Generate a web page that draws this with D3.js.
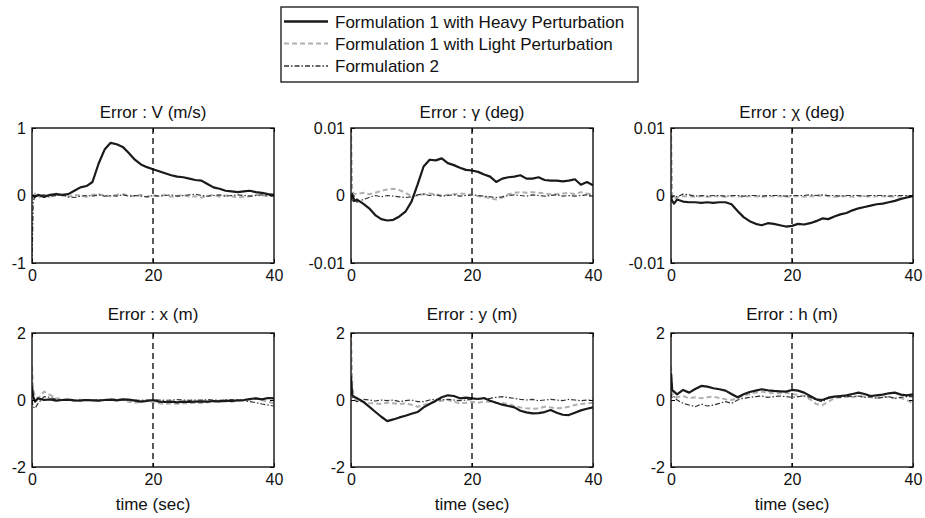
<!DOCTYPE html>
<html><head><meta charset="utf-8">
<script src="https://cdn.jsdelivr.net/npm/d3@7"></script>
<style>
html,body{margin:0;padding:0;background:#fff;}
svg{display:block;font-family:"Liberation Sans",Arial,Helvetica,sans-serif;}
</style></head><body>
<svg id="chart" width="925" height="518"></svg>
<script>
// ---------------- data ----------------
const seriesNames = ["Formulation 1 with Heavy Perturbation", "Formulation 1 with Light Perturbation", "Formulation 2"];
const panelTitles = ["Error : V (m/s)", "Error : \u03b3 (deg)", "Error : \u03c7 (deg)", "Error : x (m)", "Error : y (m)", "Error : h (m)"];
const xTicks = [0, 20, 40];
const xTickLabels = ["0", "20", "40"];
const xLabel = "time (sec)";
const markerTime = 20;
const yTicksV = [-1, 0, 1];
const yTicksAngle = [-0.01, 0, 0.01];
const yTicksPos = [-2, 0, 2];
const yTickLabelsV = ["-1", "0", "1"];
const yTickLabelsAngle = ["-0.01", "0", "0.01"];
const yTickLabelsPos = ["-2", "0", "2"];

const time = [0, 0.2, 0.5, 1, 2, 3, 4, 5, 6, 7, 8, 9, 10, 11, 12, 13, 14, 15, 16, 17, 18, 19, 20,
  21, 22, 23, 24, 25, 26, 27, 28, 29, 30, 31, 32, 33, 34, 35, 36, 37, 38, 39, 40];

// V (m/s)
const vHeavy = [0, 0, -0.02, 0.01, -0.02, 0.01, 0.02, 0.01, 0.02, 0.07, 0.12, 0.14, 0.2, 0.47, 0.68, 0.78, 0.76, 0.72, 0.63, 0.53, 0.46, 0.42, 0.39,
  0.36, 0.33, 0.30, 0.28, 0.27, 0.25, 0.23, 0.22, 0.17, 0.12, 0.10, 0.07, 0.06, 0.05, 0.06, 0.07, 0.05, 0.04, 0.02, 0.01];
const vLight = [0, -0.05, 0.03, -0.04, 0.02, -0.03, 0.03, 0, -0.02, 0.01, 0, -0.02, 0.01, 0.02, 0, -0.01, 0.01, 0.02, 0, -0.01, 0.01, -0.02, 0,
  -0.01, 0.01, -0.02, -0.01, 0.01, -0.02, -0.01, -0.03, -0.01, 0.01, -0.02, 0, -0.01, -0.03, -0.02, -0.01, 0.01, 0, -0.01, 0];
const vForm2 = [-1, -0.1, 0, -0.01, 0.01, -0.01, 0, 0.01, -0.02, -0.03, -0.01, 0, -0.01, 0.01, -0.01, 0, -0.01, 0.01, -0.01, 0, -0.01, -0.02, 0,
  -0.01, 0, 0.01, -0.01, 0, 0.01, 0.02, 0, -0.01, 0, 0.01, -0.01, 0, 0.01, 0, -0.01, 0, 0.01, 0, 0];

// gamma (deg)
const gHeavy = [-0.0005, 0.0002, -0.0008, -0.0006, -0.0012, -0.0019, -0.0029, -0.0035, -0.0037, -0.0036, -0.0031, -0.0024, -0.0009, 0.0016, 0.0043, 0.0053, 0.0052, 0.0055, 0.0048, 0.0045, 0.0041, 0.0038, 0.0037,
  0.0035, 0.0031, 0.0028, 0.0020, 0.0025, 0.0027, 0.0028, 0.0030, 0.0025, 0.0025, 0.0027, 0.0023, 0.0022, 0.0022, 0.0021, 0.0022, 0.0024, 0.0016, 0.0020, 0.0015];
const gLight = [0.01, 0.0005, 0.0003, 0.0002, 0.0004, 0.0002, 0.0004, 0.0007, 0.0009, 0.0010, 0.0008, 0.0004, -0.0001, 0, 0.0002, 0.0003, 0.0002, 0, 0.0001, 0.0002, 0.0003, 0.0002, 0.0001,
  -0.0001, -0.0002, -0.0004, -0.0006, -0.0003, 0.0002, 0.0004, 0.0005, 0.0004, 0.0005, 0.0004, 0.0003, 0.0002, 0.0002, 0.0003, 0.0004, 0.0002, 0.0005, 0.0003, 0.0002];
const gForm2 = [-0.0002, -0.0008, -0.0004, -0.0010, -0.0006, -0.0003, 0, -0.0002, 0, -0.0001, -0.0002, -0.0003, -0.0002, 0.0001, 0.0002, 0, 0.0001, -0.0001, 0, 0.0001, -0.0001, 0, 0.0001,
  0, -0.0001, -0.0002, -0.0003, -0.0002, 0, 0.0001, 0, -0.0001, 0.0001, 0, -0.0001, 0, 0.0001, -0.0001, 0, -0.0001, 0, 0.0001, 0];

// chi (deg)
const cHeavy = [-0.0003, -0.0008, -0.0012, -0.0006, -0.0009, -0.0010, -0.0010, -0.0011, -0.0010, -0.0011, -0.0010, -0.0010, -0.0013, -0.0023, -0.0032, -0.0038, -0.0042, -0.0044, -0.0041, -0.0042, -0.0044, -0.0046, -0.0045,
  -0.0042, -0.0043, -0.0041, -0.0038, -0.0034, -0.0035, -0.0031, -0.0028, -0.0026, -0.0022, -0.0019, -0.0017, -0.0015, -0.0013, -0.0012, -0.0010, -0.0008, -0.0005, -0.0003, -0.0001];
const cLight = [0.01, -0.0002, -0.0005, -0.0003, -0.0001, -0.0001, -0.0002, -0.0001, -0.0002, -0.0001, -0.0001, -0.0002, -0.0001, -0.0001, -0.0002, -0.0001, -0.0001, -0.0002, -0.0001, -0.0001, -0.0001, -0.0002, -0.0001,
  -0.0001, -0.0002, -0.0001, -0.0001, 0, -0.0001, -0.0002, -0.0001, -0.0001, -0.0002, -0.0001, -0.0001, -0.0002, -0.0001, -0.0001, -0.0001, -0.0002, -0.0001, -0.0001, -0.0001];
const cForm2 = [0, -0.0003, 0, -0.0002, 0.0002, 0.0001, -0.0001, 0, -0.0001, 0, 0, -0.0001, 0, 0, -0.0001, 0, 0, -0.0001, 0, 0, 0, -0.0001, 0,
  0, 0, 0.0001, 0, 0.0001, 0, 0, -0.0001, 0, 0, 0, -0.0001, 0, 0, 0, -0.0001, 0, 0, 0, 0];

// x (m)
const xHeavy = [0.4, 0.1, -0.05, 0.05, 0, 0.02, -0.02, 0, 0.01, -0.01, -0.02, 0, -0.01, -0.02, 0, 0.01, -0.01, 0.02, 0.01, -0.02, -0.05, -0.03, 0,
  -0.05, -0.06, -0.05, -0.07, -0.05, -0.06, -0.05, -0.04, -0.05, -0.03, -0.04, -0.02, -0.03, -0.01, 0, 0.03, 0.05, 0.02, 0.06, 0.05];
const xLight = [1.0, 0.3, 0.1, 0.05, 0.25, 0.15, 0.05, 0.03, 0, -0.02, 0.01, -0.01, 0, -0.02, 0, 0.03, 0.02, 0, -0.05, -0.08, -0.05, -0.02, -0.06,
  -0.1, -0.12, -0.1, -0.11, -0.09, -0.1, -0.08, -0.09, -0.07, -0.05, -0.06, -0.04, -0.05, -0.02, -0.03, 0, 0.05, 0, -0.05, -0.1];
const xForm2 = [0, -0.2, -0.25, -0.1, 0.1, 0.08, 0.02, -0.01, 0, -0.02, 0, 0.01, -0.01, 0, 0.01, 0, -0.01, 0, 0.01, 0, -0.01, 0, 0.01,
  0, -0.01, 0, 0.01, 0, -0.01, 0, 0, 0.01, 0, -0.01, 0, 0.01, 0, -0.02, -0.05, -0.08, -0.12, -0.15, -0.18];

// y (m)
const yHeavy = [0.7, 0.15, 0.1, 0.05, -0.05, -0.2, -0.35, -0.5, -0.63, -0.58, -0.52, -0.47, -0.41, -0.36, -0.22, -0.12, -0.02, 0.08, 0.14, 0.12, 0.05, 0.07, 0.05,
  0.03, 0.06, -0.02, -0.08, -0.14, -0.18, -0.22, -0.32, -0.37, -0.4, -0.39, -0.36, -0.3, -0.38, -0.44, -0.45, -0.38, -0.31, -0.26, -0.22];
const yLight = [2.0, 0.4, 0.1, 0, -0.05, -0.1, -0.1, -0.12, -0.08, -0.1, -0.12, -0.1, -0.14, -0.2, -0.15, -0.1, -0.05, -0.02, 0, -0.05, -0.1, -0.08, -0.05,
  -0.08, -0.05, -0.05, -0.08, -0.1, -0.12, -0.18, -0.22, -0.25, -0.26, -0.25, -0.2, -0.22, -0.25, -0.24, -0.2, -0.15, -0.12, -0.1, -0.08];
const yForm2 = [0.3, 0.1, 0, -0.05, 0.02, 0, -0.03, 0, -0.02, 0, -0.05, -0.02, 0, -0.05, -0.05, 0, 0.02, 0, 0.02, 0, -0.02, 0, 0.02,
  0.05, 0.03, 0.05, 0.08, 0.1, 0.07, 0.05, 0.02, 0, 0.02, -0.02, 0, 0.02, 0, -0.02, 0.02, 0, -0.02, 0, 0];

// h (m)
const hHeavy = [0.8, 0.3, 0.25, 0.17, 0.3, 0.22, 0.33, 0.42, 0.4, 0.35, 0.32, 0.28, 0.18, 0.08, 0.17, 0.24, 0.28, 0.32, 0.29, 0.27, 0.26, 0.25, 0.3,
  0.28, 0.22, 0.12, 0.02, 0, 0.07, 0.1, 0.12, 0.14, 0.18, 0.22, 0.18, 0.12, 0.14, 0.16, 0.2, 0.22, 0.16, 0.14, 0.17];
const hLight = [1.0, 0.2, 0.1, 0.08, 0.12, 0.05, 0.08, 0.05, 0.08, 0.1, 0.06, 0.02, 0, 0.05, 0.12, 0.18, 0.22, 0.25, 0.22, 0.2, 0.2, 0.22, 0.18,
  0.15, 0.12, 0.02, -0.12, -0.15, -0.05, 0.05, 0.08, 0.1, 0.08, 0.12, 0.1, 0.08, 0.06, 0.1, 0.08, 0.05, 0.06, 0, -0.1];
const hForm2 = [0.2, 0.05, 0.1, 0, -0.1, -0.15, -0.2, -0.12, -0.18, -0.15, -0.1, -0.05, -0.1, 0, 0.05, 0.08, 0.1, 0.12, 0.08, 0.1, 0.12, 0.1, 0.08,
  0.1, 0.12, 0.08, 0, -0.05, 0.05, 0.1, 0.08, 0.12, 0.1, 0.12, 0.08, 0.1, 0.05, 0.08, 0.1, 0.05, 0.08, 0.1, 0.1];

// ---------------- layout & style ----------------
const colLeft = [32, 351, 671], colRight = [274, 593, 913];
const rowTop = [128, 333], rowBottom = [263, 467];
const titleY = [118, 320];
const styles = [
  {stroke: "#1a1a1a", width: 2.2, dash: null},
  {stroke: "#b0b0b0", width: 2.0, dash: "5,3"},
  {stroke: "#333", width: 1.2, dash: "5,2,1.5,2"}
];

const panels = [
  {title: panelTitles[0], ticks: yTicksV, labels: yTickLabelsV, series: [vHeavy, vLight, vForm2]},
  {title: panelTitles[1], ticks: yTicksAngle, labels: yTickLabelsAngle, series: [gHeavy, gLight, gForm2]},
  {title: panelTitles[2], ticks: yTicksAngle, labels: yTickLabelsAngle, series: [cHeavy, cLight, cForm2]},
  {title: panelTitles[3], ticks: yTicksPos, labels: yTickLabelsPos, series: [xHeavy, xLight, xForm2]},
  {title: panelTitles[4], ticks: yTicksPos, labels: yTickLabelsPos, series: [yHeavy, yLight, yForm2]},
  {title: panelTitles[5], ticks: yTicksPos, labels: yTickLabelsPos, series: [hHeavy, hLight, hForm2]}
];

const svg = d3.select("#chart");
const defs = svg.append("defs");

panels.forEach((p, i) => {
  const col = i % 3, row = Math.floor(i / 3);
  const L = colLeft[col], R = colRight[col], T = rowTop[row], B = rowBottom[row];
  const x = d3.scaleLinear().domain([0, 40]).range([L, R]);
  const y = d3.scaleLinear().domain([p.ticks[0], p.ticks[2]]).range([B, T]);
  const g = svg.append("g");

  defs.append("clipPath").attr("id", "clip" + i)
    .append("rect").attr("x", L).attr("y", T - 1).attr("width", R - L).attr("height", B - T + 2);

  // series
  const line = d3.line().x((d, k) => x(time[k])).y(d => y(d));
  const lg = g.append("g").attr("clip-path", `url(#clip${i})`);
  [1, 2, 0].forEach(s => {
    lg.append("path").datum(p.series[s])
      .attr("d", line)
      .attr("fill", "none")
      .attr("stroke", styles[s].stroke)
      .attr("stroke-width", styles[s].width)
      .attr("stroke-dasharray", styles[s].dash)
      .attr("stroke-linejoin", "round");
  });

  // vertical dashed marker
  g.append("line")
    .attr("x1", x(markerTime)).attr("x2", x(markerTime))
    .attr("y1", T).attr("y2", B)
    .attr("stroke", "#000").attr("stroke-width", 1.3).attr("stroke-dasharray", "6,4");

  // axes
  const ax = (gen, tx, ty, labels) => {
    const a = g.append("g").attr("transform", `translate(${tx},${ty})`).call(gen);
    a.select(".domain").remove();
    a.selectAll(".tick line").attr("stroke", "#000").attr("stroke-width", 1);
    a.selectAll(".tick text").attr("fill", "#111").style("font-size", "16px")
      .style("font-family", "'Liberation Sans',Arial,sans-serif");
    if (!labels) a.selectAll(".tick text").remove();
    return a;
  };
  ax(d3.axisBottom(x).tickValues(xTicks).tickFormat((d, k) => xTickLabels[k]).tickSize(-4).tickPadding(7), 0, B, true);
  ax(d3.axisTop(x).tickValues(xTicks).tickSize(-4), 0, T, false);
  ax(d3.axisLeft(y).tickValues(p.ticks).tickFormat((d, k) => p.labels[k]).tickSize(-4).tickPadding(6), L, 0, true);
  ax(d3.axisRight(y).tickValues(p.ticks).tickSize(-4), R, 0, false);

  g.append("rect").attr("x", L).attr("y", T).attr("width", R - L).attr("height", B - T)
    .attr("fill", "none").attr("stroke", "#111").attr("stroke-width", 1.4);

  g.append("text").attr("x", (L + R) / 2).attr("y", titleY[row])
    .attr("text-anchor", "middle").style("font-size", "17px").attr("fill", "#111")
    .text(p.title);

  if (row === 1) {
    g.append("text").attr("x", (L + R) / 2).attr("y", 510)
      .attr("text-anchor", "middle").style("font-size", "17px").attr("fill", "#111")
      .text(xLabel);
  }
});

// legend
const leg = svg.append("g");
leg.append("rect").attr("x", 281).attr("y", 7).attr("width", 357).attr("height", 75)
  .attr("fill", "#fff").attr("stroke", "#222").attr("stroke-width", 1.4);
const legRows = [21.5, 43.5, 66];
seriesNames.forEach((name, s) => {
  leg.append("line").attr("x1", 284).attr("x2", 328).attr("y1", legRows[s]).attr("y2", legRows[s])
    .attr("stroke", styles[s].stroke).attr("stroke-width", styles[s].width + 0.2)
    .attr("stroke-dasharray", styles[s].dash);
  leg.append("text").attr("x", 335).attr("y", legRows[s]).attr("dy", "0.36em")
    .style("font-size", "17px").attr("fill", "#111").text(name);
});
</script>
</body></html>
